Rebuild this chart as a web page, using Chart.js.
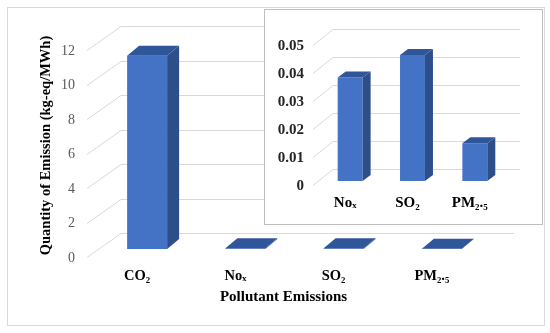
<!DOCTYPE html>
<html>
<head>
<meta charset="utf-8">
<script src="https://cdn.jsdelivr.net/npm/chart.js@4.4.1/dist/chart.umd.min.js"></script>
<style>
  body { margin: 0; background: #fff; }
  #wrap { position: relative; width: 550px; height: 333px; }
  #frame { position: absolute; left: 7px; top: 7px; width: 536px; height: 317px; border: 1px solid #d9d9d9; }
  #main { position: absolute; left: 0; top: 0; }
  #insetBox { position: absolute; left: 264px; top: 9px; width: 277px; height: 214px; border: 1px solid #bfbfbf; background: #fff; }
  #inset { display: block; }
</style>
</head>
<body>
<div id="wrap">
  <div id="frame"></div>
  <canvas id="main" width="550" height="333"></canvas>
  <div id="insetBox"><canvas id="inset" width="277" height="214"></canvas></div>
</div>
<script>
// data
const categories = ['CO₂', 'Noₓ', 'SO₂', 'PM₂.₅'];
const emissions = [11.2, 0.037, 0.045, 0.0135];
const mainTicks = { max: 12, step: 2 };
const insetCategories = categories.slice(1);
const insetEmissions = emissions.slice(1);
const insetTicks = { max: 0.05, step: 0.01 };

const serif = "'Liberation Serif', 'Times New Roman', serif";
const frontColor = '#4472C4';
const sideColor = '#2D4E89';
const topColor = '#30569A';
const gridColor = '#d9d9d9';

// fake 3d: back wall grid, side walls and bar faces drawn around the real bars
const threeD = (o) => ({
    id: 'threeD',
    beforeDatasetsDraw(chart) {
        const { ctx, chartArea: a, scales: { y } } = chart;
        ctx.save();
        ctx.strokeStyle = gridColor;
        ctx.lineWidth = 1;
        y.ticks.forEach(t => {
            const py = Math.round(y.getPixelForValue(t.value)) + 0.5;
            ctx.beginPath();
            ctx.moveTo(a.left + o.front[0], py + o.front[1]);
            ctx.lineTo(a.left + o.back[0], py + o.back[1]);
            ctx.lineTo(a.right + o.back[0], py + o.back[1]);
            ctx.stroke();
        });
        ctx.restore();
    },
    afterDatasetsDraw(chart) {
        const { ctx, chartArea: a } = chart;
        const [dx, dy] = o.depth;
        ctx.save();
        chart.getDatasetMeta(0).data.forEach(b => {
            const { x, y, base, width } = b.getProps(['x', 'y', 'base', 'width'], true);
            const l = x - width / 2, r = x + width / 2;
            ctx.fillStyle = sideColor;
            ctx.beginPath();
            ctx.moveTo(r, y); ctx.lineTo(r + dx, y + dy); ctx.lineTo(r + dx, base + dy); ctx.lineTo(r, base);
            ctx.closePath(); ctx.fill();
            ctx.fillStyle = topColor;
            ctx.beginPath();
            ctx.moveTo(l, y); ctx.lineTo(l + dx, y + dy); ctx.lineTo(r + dx, y + dy); ctx.lineTo(r, y);
            ctx.closePath(); ctx.fill();
        });
        if (o.xTitle) {
            ctx.font = 'bold 15px ' + serif;
            ctx.fillStyle = '#000';
            ctx.textAlign = 'center';
            ctx.textBaseline = 'middle';
            ctx.fillText(o.xTitle, (a.left + a.right) / 2 + o.front[0], o.xTitleY);
        }
        ctx.restore();
    }
});

const makeChart = (id, labels, values, cfg) => new Chart(document.getElementById(id), {
    type: 'bar',
    data: {
        labels: labels,
        datasets: [{ data: values, backgroundColor: frontColor, barPercentage: cfg.barPct, categoryPercentage: 1 }]
    },
    options: {
        responsive: false, animation: false, devicePixelRatio: 1,
        layout: { padding: cfg.padding },
        plugins: { legend: { display: false }, tooltip: { enabled: false } },
        scales: {
            x: {
                grid: { display: false, drawTicks: false }, border: { display: false },
                ticks: { font: { family: serif, size: cfg.xSize, weight: 'bold' }, color: '#000', labelOffset: cfg.xLabelOffset, padding: cfg.xPad },
                afterFit: s => { s.height = cfg.xHeight; }
            },
            y: {
                min: 0, max: cfg.ticks.max,
                grid: { display: false, drawTicks: false }, border: { display: false },
                ticks: { stepSize: cfg.ticks.step, font: cfg.yFont, color: cfg.yColor, labelOffset: cfg.yLabelOffset, padding: cfg.yPad },
                title: cfg.yTitle,
                afterFit: s => { s.width = cfg.yWidth; }
            }
        }
    },
    plugins: [threeD(cfg.geo)]
});

makeChart('main', categories, emissions, {
    barPct: 0.407,
    padding: { left: 0, right: 59, top: 42, bottom: 0 },
    xSize: 14.5, xLabelOffset: -10, xPad: 19, xHeight: 84,
    ticks: mainTicks,
    yFont: { family: serif, size: 14 }, yColor: '#595959', yLabelOffset: 9, yPad: 23, yWidth: 98,
    yTitle: { display: true, text: 'Quantity of Emission (kg-eq/MWh)', color: '#000', font: { family: serif, size: 14.5, weight: 'bold' }, padding: { top: 38, bottom: 0 } },
    geo: { front: [-11, 8], back: [23, -16], depth: [12, -10], xTitle: 'Pollutant Emissions', xTitleY: 297 }
});

makeChart('inset', insetCategories, insetEmissions, {
    barPct: 0.4,
    padding: { left: 0, right: 36, top: 31, bottom: 0 },
    xSize: 15, xLabelOffset: -5, xPad: 13, xHeight: 43,
    ticks: insetTicks,
    yFont: { family: serif, size: 15, weight: 'bold' }, yColor: '#262626', yLabelOffset: 5, yPad: 15, yWidth: 54,
    yTitle: { display: false },
    geo: { front: [-6, 4], back: [14, -12], depth: [8, -6] }
});
</script>
</body>
</html>
